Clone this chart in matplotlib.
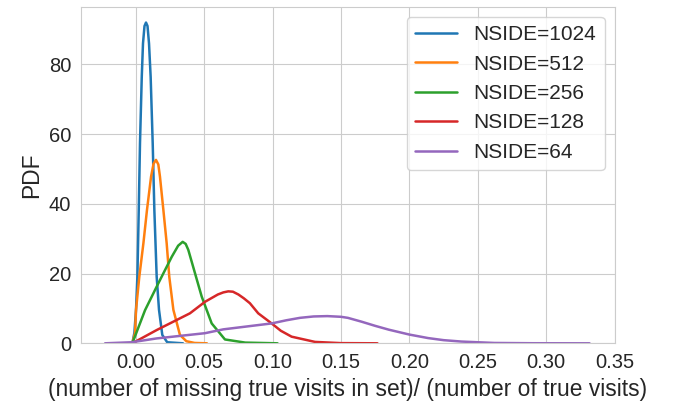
import matplotlib
matplotlib.use("Agg")
import matplotlib.pyplot as plt
import seaborn as sns

sns.set_style("whitegrid")
plt.rcParams['font.family'] = ['Liberation Sans', 'DejaVu Sans']

# KDE curves (x = missing fraction, y = PDF)
x_1024 = [-0.0025, -0.0010, 0.0002, 0.0012, 0.0022, 0.0031, 0.0044, 0.0053, 0.0064, 0.0075,
          0.0086, 0.0097, 0.0109, 0.0124, 0.0136, 0.0153, 0.0170, 0.0194, 0.0230, 0.0345]
y_1024 = [0, 3, 9.6, 19.1, 38.2, 57.3, 76.4, 86, 91, 92,
          91, 86, 76.4, 57.3, 38.2, 19.1, 9.6, 2.4, 0.3, 0]

x_512 = [-0.0025, -0.0005, 0.0002, 0.0026, 0.0056, 0.0082, 0.0112, 0.0130, 0.0148, 0.0165,
         0.0177, 0.0202, 0.0226, 0.0245, 0.0275, 0.0323, 0.0370, 0.0430, 0.0520]
y_512 = [0, 3, 9.6, 19.1, 28.7, 38.2, 47.8, 51.5, 52.6, 51.3,
         47.8, 38.2, 28.7, 19.1, 9.6, 2.4, 0.6, 0.1, 0]

x_256 = [-0.0025, 0.0068, 0.0165, 0.0263, 0.0310, 0.0343, 0.0365, 0.0384, 0.0433, 0.0482,
         0.0555, 0.0652, 0.0800, 0.1036]
y_256 = [0, 9.5, 17.2, 24.8, 28.0, 29.1, 28.5, 26.8, 20.1, 13.4,
         5.7, 1.1, 0.2, 0]

x_128 = [-0.0025, 0.0153, 0.0396, 0.0506, 0.0600, 0.0640, 0.0676, 0.0710, 0.0750, 0.0790,
         0.0834, 0.0895, 0.0993, 0.1060, 0.1139, 0.1310, 0.1500, 0.1766]
y_128 = [0, 3.8, 8.6, 11.9, 14.0, 14.6, 14.9, 14.8, 14.0, 12.9,
         11.5, 8.6, 5.7, 3.6, 1.9, 0.4, 0.05, 0]

x_64 = [-0.0224, -0.0030, 0.0153, 0.0506, 0.0640, 0.0993, 0.1100, 0.1200, 0.1300, 0.1400,
        0.1500, 0.1550, 0.1650, 0.1750, 0.1850, 0.2000, 0.2136, 0.2250, 0.2380, 0.2620,
        0.2900, 0.3316]
y_64 = [0, 0.3, 1.4, 2.9, 4.0, 5.7, 6.6, 7.3, 7.7, 7.8,
        7.6, 7.3, 6.2, 5.0, 3.9, 2.5, 1.5, 0.9, 0.5, 0.1,
        0.02, 0]

labels = ["NSIDE=1024", "NSIDE=512", "NSIDE=256", "NSIDE=128", "NSIDE=64"]
curves = [(x_1024, y_1024), (x_512, y_512), (x_256, y_256), (x_128, y_128), (x_64, y_64)]

fig = plt.figure(figsize=(6.74, 4.08), dpi=100)
ax = fig.add_axes([81 / 674, 1 - 343.3 / 408, (615 - 81) / 674, (343.3 - 6.5) / 408])

for (xs, ys), lab in zip(curves, labels):
    ax.plot(xs, ys, lw=1.8, label=lab)

ax.set_xlim(-0.040, 0.3502)
ax.set_ylim(0, 96.6)
ax.set_xticks([0.0, 0.05, 0.10, 0.15, 0.20, 0.25, 0.30, 0.35])
ax.set_xticklabels(["0.00", "0.05", "0.10", "0.15", "0.20", "0.25", "0.30", "0.35"])
ax.set_yticks([0, 20, 40, 60, 80])
ax.tick_params(labelsize=14.5)
ax.set_xlabel("(number of missing true visits in set)/ (number of true visits)", fontsize=16.4)
ax.set_ylabel("PDF", fontsize=16.4)
ax.legend(loc="upper right", fontsize=15)

fig.savefig("out.png", dpi=100)
